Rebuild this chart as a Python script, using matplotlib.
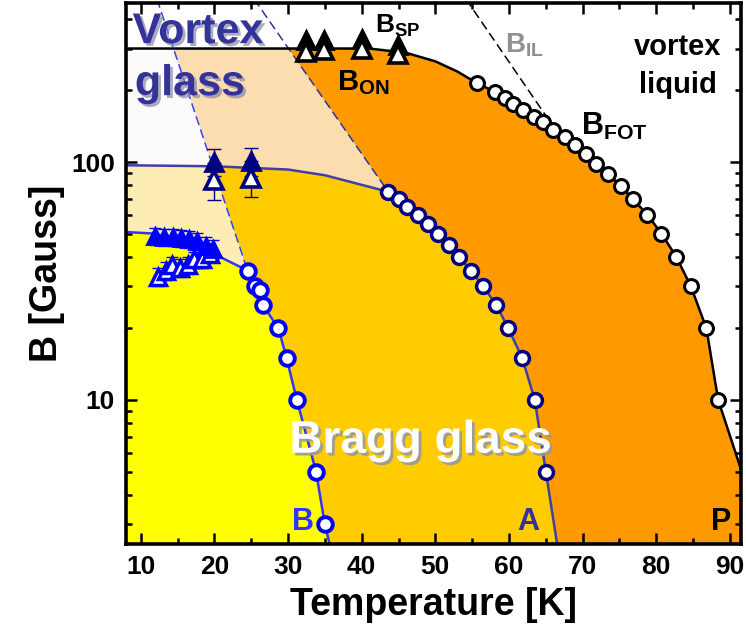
import numpy as np
import matplotlib
matplotlib.use('Agg')
import matplotlib.pyplot as plt
import matplotlib.patheffects as pe
from matplotlib.patches import Polygon
from matplotlib import ticker

plt.rcParams['font.family'] = ['Liberation Sans', 'DejaVu Sans']
plt.rcParams['font.weight'] = 'bold'
plt.rcParams['axes.labelweight'] = 'bold'
plt.rcParams['mathtext.fontset'] = 'custom'
plt.rcParams['mathtext.bf'] = 'Liberation Sans:bold'
plt.rcParams['mathtext.rm'] = 'Liberation Sans:bold'

# ---- data (T in K, B in Gauss) ----
# first order transition line B_FOT (P), open black circles
t_fot = [55.6, 58.1, 59.4, 60.6, 61.9, 63.4, 64.6, 66.0, 67.6, 69.0, 70.5,
         71.8, 73.5, 75.2, 76.8, 78.8, 80.7, 82.7, 84.7, 86.8, 88.4]
b_fot = [215, 197, 185, 175, 165, 155, 147, 137, 128, 118, 108,
         98, 89, 79, 70, 60, 50, 40, 30, 20, 10]
# guide line of the FOT / onset boundary
t_fot_top = [7, 41, 46, 50, 53]
b_fot_top = [300, 300, 288, 265, 240]
t_fot_end = [91.6, 93]
b_fot_end = [5, 3.2]

# line A, open navy circles
t_a = [43.6, 45.0, 46.1, 47.6, 49.0, 50.4, 51.8, 53.2, 54.8, 56.5, 58.3,
       59.9, 61.8, 63.5, 65.0]
b_a = [75, 70, 65, 60, 55, 50, 45, 40, 35, 30, 25, 20, 15, 10, 5]
t_a_top = [7, 20, 30, 35]
b_a_top = [97, 96, 93, 88]
t_a_end = [66.7]
b_a_end = [2.3]

# line B, open blue circles
t_b = [24.5, 25.5, 26.2, 26.6, 28.7, 29.8, 31.2, 33.8, 35.0]
b_b = [35, 30, 29, 25, 20, 15, 10, 5, 3]
t_b_top = [7, 12, 20]
b_b_top = [51, 50, 41]
t_b_end = [35.9]
b_b_end = [2.3]

# B_SP (filled) and B_ON (open) black triangles
t_sp = [32.5, 34.9, 40.0, 44.9]
b_sp = [325, 325, 330, 310]
t_on = [32.5, 34.9, 40.0, 44.9]
b_on = [290, 295, 300, 285]

# navy triangles near 100 G
t_nv = [20, 25]
b_nv_fill = [100, 101]
b_nv_open = [84, 86]
err_nv_fill = [13, 14]
err_nv_open = [15, 15]

# blue triangles at low T
t_bl_fill = [12.0, 13.2, 14.4, 15.4, 16.5, 17.6, 18.8, 19.8]
b_bl_fill = [49, 48.5, 48.5, 48, 47.5, 46.5, 44.5, 43]
t_bl_open = [12.3, 13.4, 14.3, 15.3, 16.4, 17.3, 18.3, 19.4]
b_bl_open = [33, 35, 37, 36, 37, 39, 39, 41]

# dashed lines
t_d1 = [11.2, 24.5]
b_d1 = [600, 35]
t_d2 = [23.3, 43.6]
b_d2 = [600, 75]
t_il = [52.1, 65.1]
b_il = [600, 155]

fig = plt.figure(figsize=(7.46, 6.42), dpi=100)
ax = fig.add_axes([0.1689, 0.1526, 0.8244, 0.8427])
ax.set_yscale('log')

T_fot = t_fot_top + t_fot + t_fot_end
B_fot = b_fot_top + b_fot + b_fot_end
T_a = t_a_top + t_a + t_a_end
B_a = b_a_top + b_a + b_a_end
T_b = t_b_top + t_b + t_b_end
B_b = b_b_top + b_b + b_b_end

# ---- coloured regions ----
orange = Polygon(list(zip(T_fot, B_fot)) + [(93, 1), (7, 1)],
                 closed=True, fc='#FF9900', ec='none', zorder=0.2)
ax.add_patch(orange)

peach = Polygon([(7, 1), (7, 600), (t_d2[0], b_d2[0]), (t_d2[1], b_d2[1]),
                 (t_d2[1], 1)], closed=True, fc='#FCDDB0', ec='none', zorder=0.3)
ax.add_patch(peach)
peach.set_clip_path(orange)

left_vg = Polygon([(7, 1), (7, 600), (t_d1[0], b_d1[0]), (t_d1[1], b_d1[1]),
                   (t_d1[1], 1)], closed=True, fc='#FCFBF9', ec='none', zorder=0.4)
ax.add_patch(left_vg)
left_vg.set_clip_path(orange)

gold = Polygon(list(zip(T_a, B_a)) + [(t_a_end[0], 1), (7, 1)],
               closed=True, fc='#FFCC00', ec='none', zorder=0.5)
ax.add_patch(gold)

cream = Polygon([(7, 1), (7, 600), (t_d1[0], b_d1[0]), (t_d1[1], b_d1[1]),
                 (t_d1[1], 1)], closed=True, fc='#FDECB4', ec='none', zorder=0.6)
ax.add_patch(cream)
cream.set_clip_path(gold)

yellow = Polygon(list(zip(T_b, B_b)) + [(t_b_end[0], 1), (7, 1)],
                 closed=True, fc='#FFFF00', ec='none', zorder=0.7)
ax.add_patch(yellow)

# ---- lines ----
ax.plot(t_d1, b_d1, ls=(0, (6, 3)), color='#3344EE', lw=1.1, zorder=1.5)
ax.plot(t_d2, b_d2, ls=(0, (6, 3)), color='#333399', lw=1.1, zorder=1.5)
ax.plot(t_il, b_il, ls=(0, (6, 3)), color='black', lw=1.1, zorder=1.5)
ax.plot(T_fot, B_fot, color='black', lw=1.8, zorder=2)
ax.plot(T_a, B_a, color='#3F3FA8', lw=1.8, zorder=2)
ax.plot(T_b, B_b, color='#3333FF', lw=1.8, zorder=2)

# ---- symbols ----
ax.plot(t_fot, b_fot, 'o', ms=10, mfc='white', mec='black', mew=2.2, zorder=3)
ax.plot(t_a, b_a, 'o', ms=10, mfc='white', mec='#000080', mew=2.5, zorder=3)
ax.plot(t_b, b_b, 'o', ms=10.5, mfc='white', mec='#0000FF', mew=2.8, zorder=3)

ax.plot(t_sp, b_sp, '^', ms=13, mfc='black', mec='black', mew=2, zorder=4)
ax.plot(t_on, b_on, '^', ms=13.5, mfc='white', mec='black', mew=2.6, zorder=4)

ax.errorbar(t_nv, b_nv_fill, yerr=err_nv_fill, fmt='none', ecolor='#000080',
            elinewidth=1, capsize=5, zorder=3.5)
ax.errorbar(t_nv, b_nv_open, yerr=err_nv_open, fmt='none', ecolor='#000080',
            elinewidth=1, capsize=5, zorder=3.5)
ax.plot(t_nv, b_nv_fill, '^', ms=13, mfc='#000080', mec='#000080', mew=2, zorder=4)
ax.plot(t_nv, b_nv_open, '^', ms=13.5, mfc='white', mec='#000080', mew=2.6, zorder=4)

ax.errorbar(t_bl_fill, b_bl_fill, yerr=4, fmt='none', ecolor='#0000FF',
            elinewidth=1, capsize=4, zorder=3.5)
ax.errorbar(t_bl_open, b_bl_open, yerr=3, fmt='none', ecolor='#0000FF',
            elinewidth=1, capsize=4, zorder=3.5)
ax.plot(t_bl_open, b_bl_open, '^', ms=12, mfc='white', mec='#0000FF', mew=2.5, zorder=4)
ax.plot(t_bl_fill, b_bl_fill, '^', ms=12, mfc='#0000FF', mec='#0000FF', mew=2, zorder=4.1)

# ---- labels inside the plot ----
shadow = [pe.withSimplePatchShadow(offset=(2, -2), shadow_rgbFace='#8888AA', alpha=0.7)]
ax.text(8.9, 316, 'Vortex', color='#333399', fontsize=31, va='baseline',
        path_effects=shadow, zorder=6)
ax.text(9.2, 191, 'glass', color='#333399', fontsize=31, va='baseline',
        path_effects=shadow, zorder=6)
ax.text(48.0, 6.0, 'Bragg glass', color='white', fontsize=33, ha='center',
        va='baseline', zorder=6,
        path_effects=[pe.withSimplePatchShadow(offset=(2, -2), shadow_rgbFace='#999999', alpha=0.9)])
ax.text(41.8, 352, r'$\mathbf{B}_{\mathbf{SP}}$', fontsize=19, va='baseline', zorder=6)
ax.text(36.6, 201, r'$\mathbf{B}_{\mathbf{ON}}$', fontsize=21, va='baseline', zorder=6)
ax.text(59.5, 290, r'$\mathbf{B}_{\mathbf{IL}}$', fontsize=20, color='#909090',
        va='baseline', zorder=6)
ax.text(69.8, 130, r'$\mathbf{B}_{\mathbf{FOT}}$', fontsize=22, va='baseline', zorder=6)
ax.text(82.9, 282, 'vortex', fontsize=21, ha='center', va='baseline', zorder=6)
ax.text(82.9, 195, 'liquid', fontsize=21, ha='center', va='baseline', zorder=6)
ax.text(30.5, 2.84, 'B', fontsize=22, color='#3333FF', va='baseline', zorder=6)
ax.text(61.1, 2.84, 'A', fontsize=22, color='#333399', va='baseline', zorder=6)
ax.text(87.4, 2.84, 'P', fontsize=22, color='black', va='baseline', zorder=6)

# ---- axes ----
ax.set_xlim(8, 91.5)
ax.set_ylim(2.48, 466)
ax.xaxis.set_major_locator(ticker.MultipleLocator(10))
ax.xaxis.set_minor_locator(ticker.MultipleLocator(5))
ax.yaxis.set_major_locator(ticker.FixedLocator([10, 100]))
ax.yaxis.set_major_formatter(ticker.FixedFormatter(['10', '100']))
ax.yaxis.set_minor_locator(ticker.LogLocator(base=10, subs=np.arange(2, 10)))
ax.yaxis.set_minor_formatter(ticker.NullFormatter())

ax.tick_params(which='both', direction='in', top=True, right=True, width=1.8)
ax.tick_params(which='major', length=8, labelsize=19, pad=8)
ax.tick_params(which='minor', length=4.5)
for s in ax.spines.values():
    s.set_linewidth(2.6)
    s.set_zorder(7)

ax.set_xlabel('Temperature [K]', fontsize=27, fontweight='bold', labelpad=6)
ax.set_ylabel('B [Gauss]', fontsize=27, fontweight='bold', labelpad=4)

fig.savefig('out.png', dpi=100)
